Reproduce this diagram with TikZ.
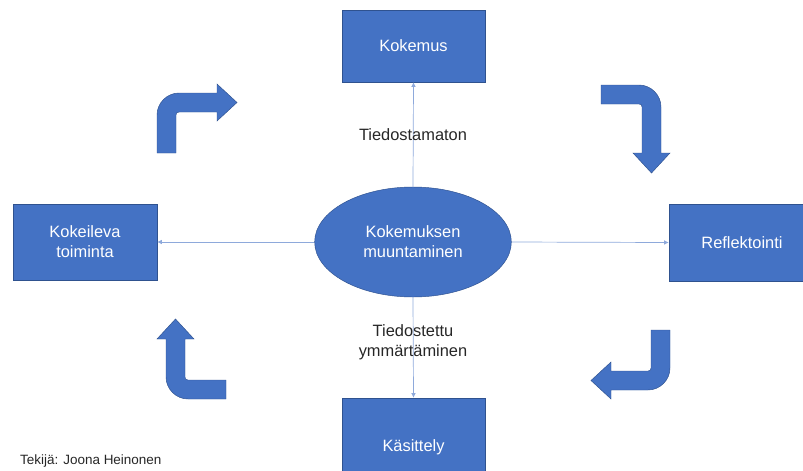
\documentclass[tikz,border=0pt]{standalone}
\usepackage{fontspec}
\setmainfont{Liberation Sans}
\usetikzlibrary{shapes.geometric,arrows.meta}
\definecolor{boxblue}{HTML}{4472C4}
\definecolor{edgeblue}{HTML}{2F528F}
\definecolor{lineblue}{HTML}{8EA9DB}
\definecolor{labelgray}{HTML}{262626}
\tikzset{
  box/.style={draw=edgeblue,fill=boxblue,text=white,align=center,inner sep=0pt,
    font=\fontsize{14}{17}\selectfont},
  conn/.style={draw=lineblue,line width=0.6pt,-{Latex[length=4pt,width=4pt]}},
  lbl/.style={text=labelgray,align=center,font=\fontsize{14}{17}\selectfont},
  bentarrow/.style={fill=boxblue,draw=edgeblue,line width=0.4pt}
}
\begin{document}
\begin{tikzpicture}[x=0.03cm,y=-0.03cm]
\useasboundingbox (0,0) rectangle (803,470);
% laatikot
\node[box,minimum width=4.29cm,minimum height=2.16cm] (kokemus) at (413.5,46) {Kokemus};
\node[box,minimum width=4.32cm,minimum height=2.28cm] (kokeileva) at (85,242) {Kokeileva\\toiminta};
\node[box,minimum width=4.38cm,minimum height=2.31cm] (reflektointi) at (742,242.5) {Reflektointi};
\node[box,minimum width=4.29cm,minimum height=2.94cm] (kasittely) at (413.5,447) {K\"asittely};
\node[box,ellipse,minimum width=5.9cm,minimum height=3.3cm] (muunto) at (413,242) {Kokemuksen\\muuntaminen};
% yhteydet
\draw[conn] (muunto.north) -- (kokemus.south);
\draw[conn] (muunto.south) -- (kasittely.north);
\draw[conn] (muunto.west) -- (kokeileva.east);
\draw[conn] (muunto.east) -- (reflektointi.west);
\node[lbl] (tiedostamaton) at (413,135) {Tiedostamaton};
\node[lbl] (tiedostettu) at (413,342) {Tiedostettu\\ymm\"art\"aminen};
% kaarinuolet
\foreach \x/\y/\r/\t in {157/93/0/80,661/85/-90/88,670/390/180/79,166/399/90/80} {
  \begin{scope}[shift={(\x,\y)},rotate=\r]
  \draw[bentarrow](0,60)--(0,22) .. controls (0,10) and (10,0) .. (22,0)--(\t-20,0)--(\t-20,-9)--(\t,9.5)
    --(\t-20,28)--(\t-20,19)--(22,19) .. controls (20,19) and (19,20) .. (19,22)--(19,60)--cycle;
  \end{scope}
}
\node[text=labelgray,anchor=west,font=\fontsize{11.5}{13}\selectfont] (tekija) at (16,461) {Tekij\"a: Joona Heinonen};
\end{tikzpicture}
\end{document}
